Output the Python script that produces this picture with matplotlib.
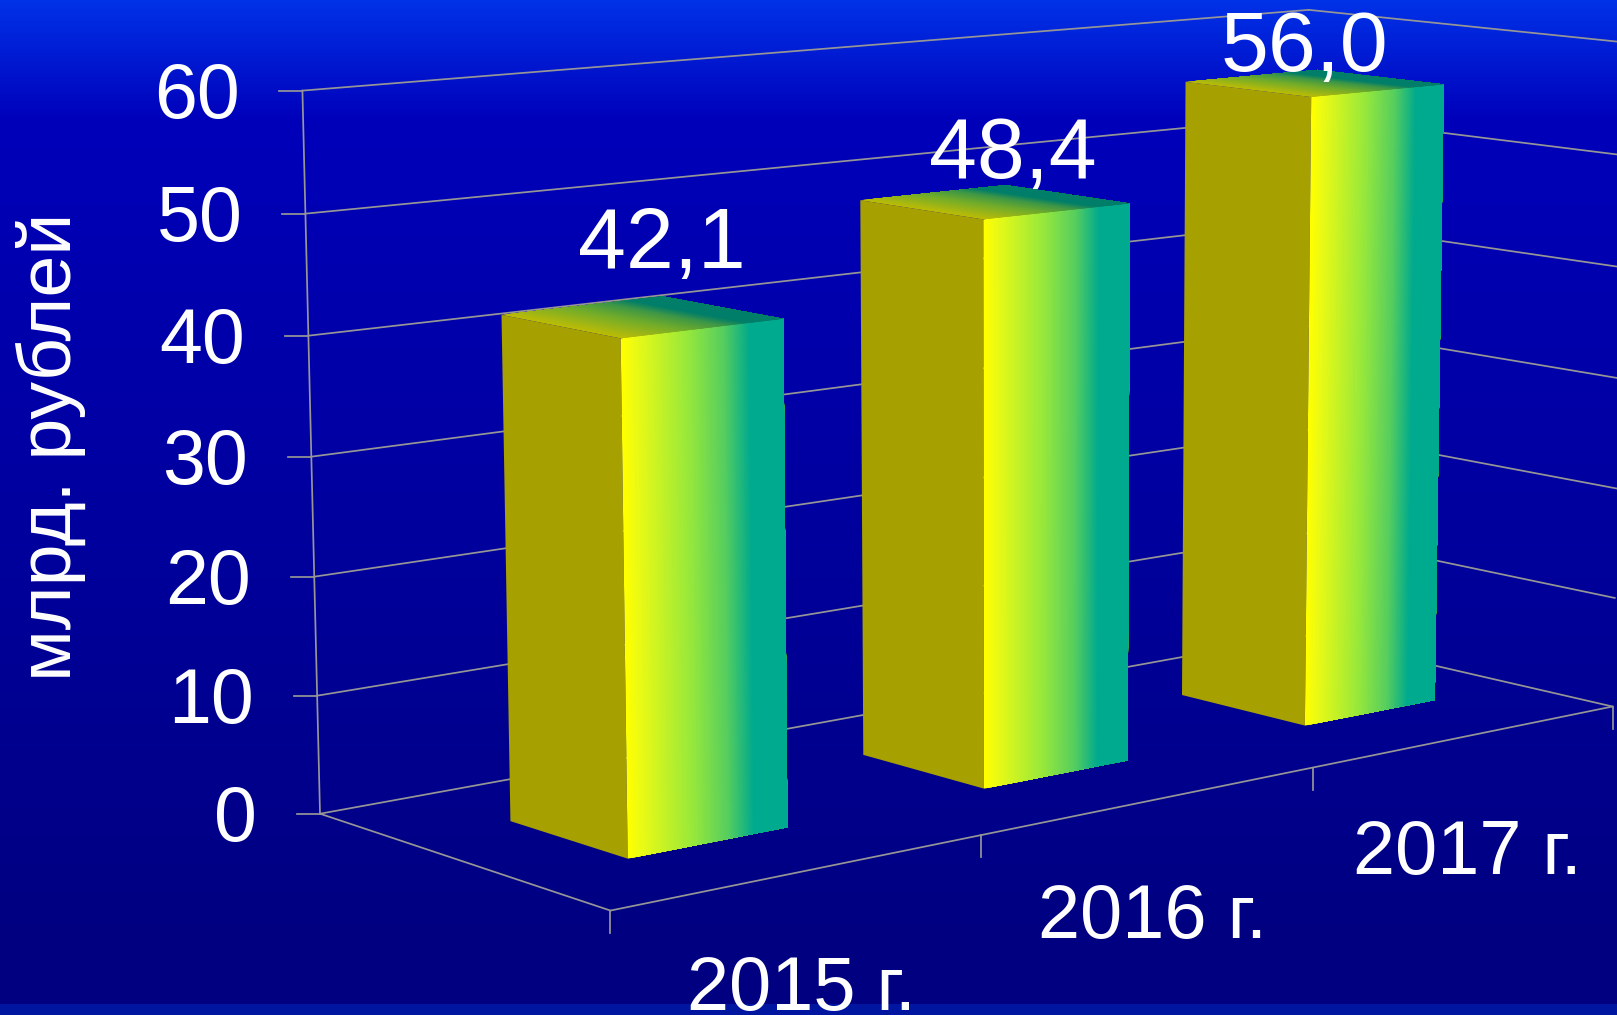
import numpy as np
import matplotlib
matplotlib.use('Agg')
import matplotlib.pyplot as plt

# данные
categories = ['2015 г.', '2016 г.', '2017 г.']
values = [42.1, 48.4, 56.0]
value_labels = ['42,1', '48,4', '56,0']
z_ticks = [0, 10, 20, 30, 40, 50, 60]
y_title = 'млрд. рублей'

W, H = 1617, 1015
GRID = '#969696'
OLIVE = np.array([166, 160, 0]) / 255

plt.rcParams['font.family'] = ['Liberation Sans', 'DejaVu Sans']


def fit_camera():
    """Камера 3x4 по углам осей: (категория, глубина, значение) -> пиксели"""
    anchors = [
        ((0, 1, 0), (319, 813.3)),
        ((0, 0, 0), (611, 911)),
        ((3, 0, 0), (1610.7, 706.7)),
        ((0, 1, 60), (303, 90.7)),
        ((3, 1, 60), (1306.7, 10.3)),
        ((3, 1, 0), (1305, 635)),
        ((3, 0, 60), (1628, 42)),
        ((1, 0, 0), (980.7, 835)),
        ((2, 0, 0), (1312.3, 767.7)),
    ]
    rows = []
    for (x, y, z), (u, v) in anchors:
        z = z / 60
        rows.append([x, y, z, 1, 0, 0, 0, 0, -u * x, -u * y, -u * z, -u])
        rows.append([0, 0, 0, 0, x, y, z, 1, -v * x, -v * y, -v * z, -v])
    return np.linalg.svd(np.array(rows))[2][-1].reshape(3, 4)


CAM = fit_camera()


def project(x, y, z):
    p = CAM @ np.array([x, y, z / 60, 1.0])
    return p[0] / p[2], p[1] / p[2]


def face_color(t):
    stops = [0, 0.08, 0.4, 0.62, 0.78, 1]
    r = np.interp(t, stops, [255, 235, 150, 85, 0, 0])
    g = np.interp(t, stops, [255, 250, 232, 205, 170, 170])
    b = np.interp(t, stops, [0, 20, 60, 95, 142, 142])
    return np.array([r, g, b]) / 255


def draw_line(ax, a, b):
    pa, pb = project(*a), project(*b)
    ax.plot([pa[0], pb[0]], [pa[1], pb[1]], color=GRID, lw=1.25, zorder=2)


def draw_bar(ax, i, val):
    x0, x1 = i + 0.285, i + 0.72
    y0, y1 = 0.3, 0.7
    # левая грань
    quad = [project(x0, y1, 0), project(x0, y0, 0), project(x0, y0, val), project(x0, y1, val)]
    ax.fill(*zip(*quad), color=OLIVE, lw=0, zorder=3)
    # правая и верхняя грани - градиент вдоль оси категорий
    for t in np.linspace(0, 1, 80)[:-1]:
        xt = x0 + (x1 - x0) * t
        col = face_color(t)
        quad = [project(xt, y0, 0), project(x1, y0, 0), project(x1, y0, val), project(xt, y0, val)]
        ax.fill(*zip(*quad), color=col, lw=0, zorder=3)
        quad = [project(xt, y0, val), project(x1, y0, val), project(x1, y1, val), project(xt, y1, val)]
        ax.fill(*zip(*quad), color=col * 0.74, lw=0, zorder=3)


fig = plt.figure(figsize=(W / 100, H / 100), dpi=100)
ax = fig.add_axes([0, 0, 1, 1])

# фон
rows = np.arange(H)
stops = [0, 120, 950]
grad = np.zeros((H, 1, 3))
grad[:, 0, 1] = np.interp(rows, stops, [50, 0, 0])
grad[:, 0, 2] = np.interp(rows, stops, [232, 186, 128])
grad[1004:, 0] = [0, 22, 160]
ax.imshow(grad / 255, extent=(0, W, H, 0), aspect='auto', zorder=0)
ax.set_xlim(0, W)
ax.set_ylim(H, 0)
ax.axis('off')

# сетка и оси
for z in z_ticks:
    draw_line(ax, (0, 1, z), (3, 1, z))
    draw_line(ax, (3, 1, z), (3, 0, z))
    px, py = project(0, 1, z)
    ax.plot([px - 23, px], [py, py], color=GRID, lw=1.25, zorder=2)
    ax.text(px - 63, py + 7, str(z), color='white', fontsize=55.5, ha='right', va='center', zorder=5)
draw_line(ax, (0, 1, 0), (0, 1, 60))
draw_line(ax, (0, 1, 0), (0, 0, 0))
draw_line(ax, (0, 0, 0), (3, 0, 0))
for i in range(4):
    px, py = project(i, 0, 0)
    ax.plot([px, px], [py, py + 22], color=GRID, lw=1.25, zorder=2)

for i, val in enumerate(values):
    draw_bar(ax, i, val)

# подписи значений
label_shift = [(21, -71), (19, -46), (-9, -34)]
for i, val in enumerate(values):
    px, py = project(i + 0.5, 0.5, val)
    ax.text(px + label_shift[i][0], py + label_shift[i][1], value_labels[i], color='white',
            fontsize=62, ha='center', va='center', zorder=6)

# подписи категорий
for i, name in enumerate(categories):
    px, py = project(i + 0.5, 0, 0)
    ax.text(px + 1, py + 138, name, color='white',
            fontsize=54.5, ha='center', va='baseline', zorder=5)

ax.text(51, 447, y_title, color='white', fontsize=54.2, rotation=90, ha='center', va='center', zorder=5)

fig.savefig('out.png', dpi=100)
